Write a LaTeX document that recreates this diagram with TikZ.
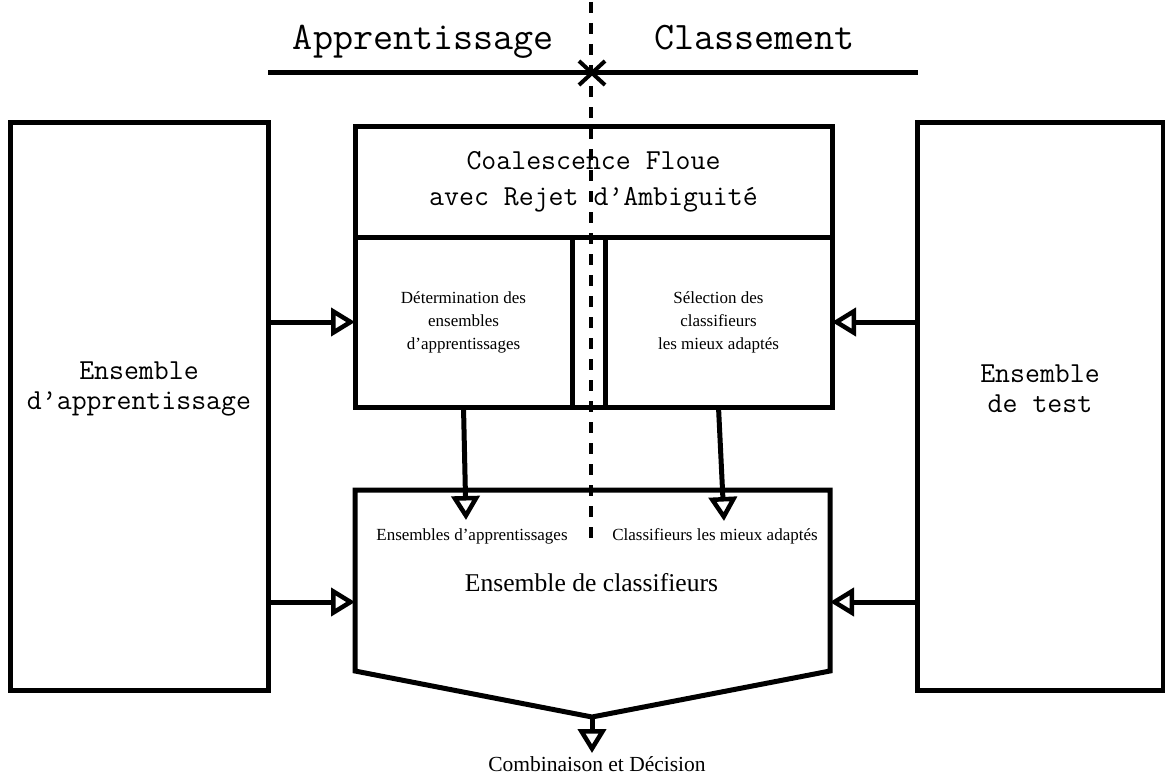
\documentclass[tikz,border=0pt]{standalone}
\usepackage{fontspec}
\newfontfamily\tms{Liberation Serif}
\usetikzlibrary{arrows.meta}
\begin{document}
\begin{tikzpicture}[x=1pt,y=-1pt,
  box/.style={draw,line width=5pt,inner sep=0pt,outer sep=0pt,line join=miter},
  arr/.style={line width=5pt,-{Triangle[fill=white,length=24pt,width=28pt,line width=4.5pt]}},
  mono/.style={font=\ttfamily\fontsize{29}{30}\selectfont,align=center,inner sep=0pt},
  serif/.style={font=\tms\fontsize{17}{23}\selectfont,align=center,inner sep=0pt},
  dashline/.style={line width=4.5pt,dash pattern=on 11pt off 10pt}]
\useasboundingbox (0,0) rectangle (1165,776);
% header
\node[font=\ttfamily\fontsize{39}{40}\selectfont,inner sep=0pt,anchor=base] (appr) at (423.5,50) {Apprentissage};
\node[font=\ttfamily\fontsize{39}{40}\selectfont,inner sep=0pt,anchor=base] (class) at (754.5,50) {Classement};
\coordinate (hl) at (268,73);
\coordinate (hr) at (918,73);
\coordinate (x0) at (592,73);
\draw[line width=5pt] (hl) -- (hr);
\draw[line width=4pt] (x0) ++(-13,-12) -- ++(26,24);
\draw[line width=4pt] (x0) ++(-13,12) -- ++(26,-24);
% side boxes
\node[box,minimum width=258pt,minimum height=568pt] (train) at (139,406) {};
\node[mono] (traintxt) at (139,389) {Ensemble\\d’apprentissage};
\node[box,minimum width=246pt,minimum height=568pt] (test) at (1040,406) {};
\node[mono] (testtxt) at (1040,389) {Ensemble\\de test};
% coalescence
\node[box,minimum width=477pt,minimum height=111pt,font=\ttfamily\fontsize{29}{36}\selectfont,align=center] (coal) at (593.5,181.5) {Coalescence Floue\\avec Rejet d’Ambiguité};
\node[box,minimum width=217pt,minimum height=170pt,serif] (det) at (463.5,322) {Détermination des\\ensembles\\d’apprentissages};
\node[box,minimum width=227pt,minimum height=170pt,serif] (sel) at (718.5,322) {Sélection des\\classifieurs\\les mieux adaptés};
\draw[line width=5pt] (det.south east) -- (sel.south west);
% classifier ensemble
\coordinate (ctl) at (355,490);
\coordinate (ctr) at (830,490);
\coordinate (cbr) at (830,671);
\coordinate (bp) at (592,717);
\coordinate (cbl) at (355,671);
\draw[line width=5pt,line join=miter] (ctl) -- (ctr) -- (cbr) -- (bp) -- (cbl) -- cycle;
\node[serif] (lab1) at (472,536) {Ensembles d’apprentissages};
\node[serif] (lab2) at (715,536) {Classifieurs les mieux adaptés};
\node[font=\tms\fontsize{25.6}{28}\selectfont,inner sep=0pt] (ens) at (591.5,583) {Ensemble de classifieurs};
\node[font=\tms\fontsize{21.5}{24}\selectfont,inner sep=0pt] (comb) at (597,764) {Combinaison et Décision};
% dashed separator
\coordinate (dtop) at (591,2);
\coordinate (dbot) at (591,538);
\draw[dashline] (dtop) -- (dbot);
% arrows
\coordinate (cl) at (355,602);
\coordinate (cr) at (830,602);
\coordinate (la) at (466,520);
\coordinate (ra) at (724,521);
\coordinate (ct) at (592,753);
\draw[arr] (det.west -| train.east) -- (det.west);
\draw[arr] (cl -| train.east) -- (cl);
\draw[arr] (sel.east -| test.west) -- (sel.east);
\draw[arr] (cr -| test.west) -- (cr);
\draw[arr] (det.south) -- (la);
\draw[arr] (sel.south) -- (ra);
\draw[arr] (bp) -- (ct);
\end{tikzpicture}
\end{document}
